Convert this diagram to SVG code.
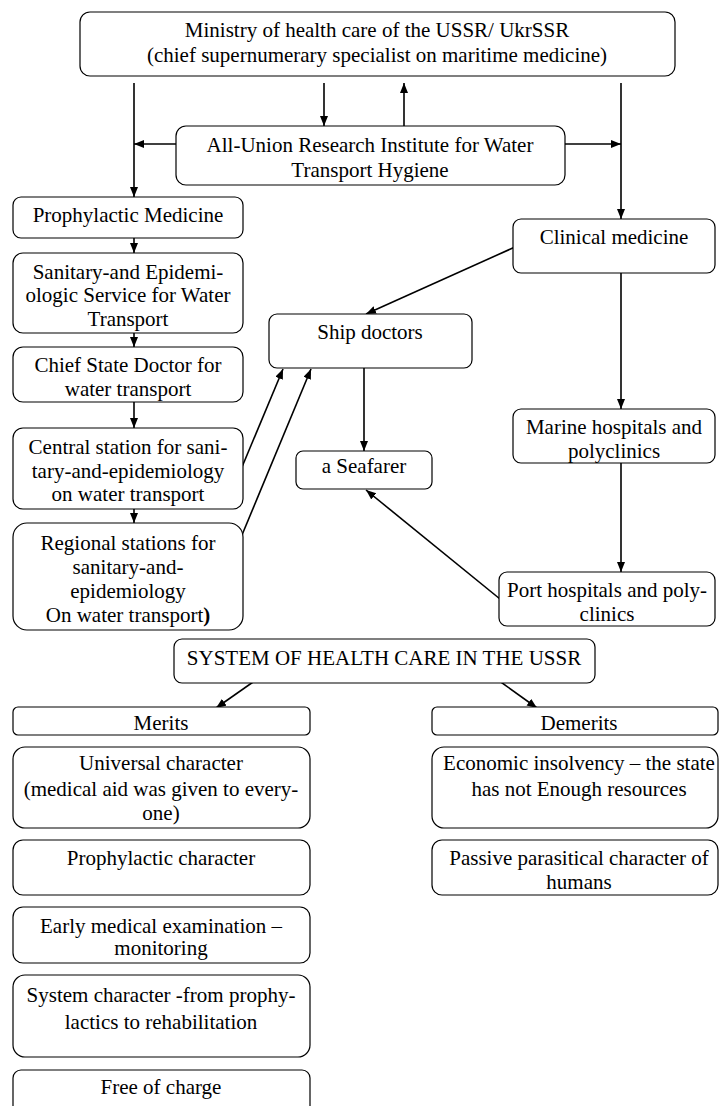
<svg xmlns="http://www.w3.org/2000/svg" width="720" height="1106" viewBox="0 0 720 1106">
<defs>
<marker id="ah" markerUnits="userSpaceOnUse" markerWidth="12" markerHeight="10" refX="10" refY="4" orient="auto">
<path d="M0,0 L10,4 L0,8 Z" fill="#000"/>
</marker>
</defs>
<style>
.b{fill:#fff;stroke:#000;stroke-width:1.2}
.t{font-size:21px;fill:#000;text-anchor:middle}
.c{stroke:#000;stroke-width:1.6;fill:none}
.a{marker-end:url(#ah)}
</style>
<rect width="720" height="1106" fill="#fff"/>
<g id="connectors">
<line class="c a" x1="134" y1="83" x2="134" y2="197"/>
<line class="c a" x1="324" y1="83" x2="324" y2="126"/>
<line class="c a" x1="404" y1="126" x2="404" y2="83"/>
<line class="c a" x1="621" y1="83" x2="621" y2="219"/>
<line class="c a" x1="176" y1="144" x2="134" y2="144"/>
<line class="c a" x1="565" y1="144" x2="621" y2="144"/>
<line class="c a" x1="134" y1="238" x2="134" y2="253"/>
<line class="c a" x1="134" y1="333" x2="134" y2="347"/>
<line class="c a" x1="134" y1="402" x2="134" y2="428"/>
<line class="c a" x1="134" y1="509" x2="134" y2="523"/>
<line class="c a" x1="515" y1="247" x2="366" y2="314"/>
<line class="c a" x1="621" y1="273" x2="621" y2="409"/>
<line class="c a" x1="621" y1="463" x2="621" y2="572"/>
<line class="c a" x1="500" y1="599" x2="366" y2="490"/>
<line class="c a" x1="364" y1="368" x2="364" y2="451"/>
<line class="c a" x1="242" y1="467" x2="283" y2="369"/>
<line class="c a" x1="242" y1="535" x2="311" y2="369"/>
<line class="c a" x1="256" y1="680" x2="216" y2="708"/>
<line class="c a" x1="498" y1="680" x2="537" y2="708"/>
</g>
<g font-family="Liberation Serif, serif">
<g id="ministry"><rect class="b" x="80" y="12" width="595" height="64" rx="10"/>
<text class="t" x="377" y="37" font-family="Liberation Serif">Ministry of health care of the USSR/ UkrSSR</text>
<text class="t" x="377" y="62" font-family="Liberation Serif">(chief supernumerary specialist on maritime medicine)</text></g>
<g id="institute"><rect class="b" x="176" y="126" width="389" height="59" rx="10"/>
<text class="t" x="370" y="152" font-family="Liberation Serif">All-Union Research Institute for Water</text>
<text class="t" x="370" y="177" font-family="Liberation Serif">Transport Hygiene</text></g>
<g id="prophylactic"><rect class="b" x="13" y="197" width="230" height="41" rx="8"/>
<text class="t" x="128" y="222" font-family="Liberation Serif">Prophylactic Medicine</text></g>
<g id="sanitary"><rect class="b" x="13" y="253" width="230" height="80" rx="10"/>
<text class="t" x="128" y="279" font-family="Liberation Serif">Sanitary-and Epidemi-</text>
<text class="t" x="128" y="302" font-family="Liberation Serif">ologic Service for Water</text>
<text class="t" x="128" y="326" font-family="Liberation Serif">Transport</text></g>
<g id="chief"><rect class="b" x="13" y="347" width="230" height="55" rx="10"/>
<text class="t" x="128" y="372" font-family="Liberation Serif">Chief State Doctor for</text>
<text class="t" x="128" y="396" font-family="Liberation Serif">water transport</text></g>
<g id="central"><rect class="b" x="13" y="428" width="230" height="81" rx="10"/>
<text class="t" x="128" y="454" font-family="Liberation Serif">Central station for sani-</text>
<text class="t" x="128" y="478" font-family="Liberation Serif">tary-and-epidemiology</text>
<text class="t" x="128" y="501" font-family="Liberation Serif">on water transport</text></g>
<g id="regional"><rect class="b" x="13" y="523" width="230" height="107" rx="14"/>
<text class="t" x="128" y="550" font-family="Liberation Serif">Regional stations for</text>
<text class="t" x="128" y="574" font-family="Liberation Serif">sanitary-and-</text>
<text class="t" x="128" y="598" font-family="Liberation Serif">epidemiology</text>
<text class="t" x="128" y="622" font-family="Liberation Serif">On water transport<tspan font-weight="bold">)</tspan></text></g>
<g id="clinical"><rect class="b" x="513" y="219" width="202" height="54" rx="8"/>
<text class="t" x="614" y="244" font-family="Liberation Serif">Clinical medicine</text></g>
<g id="ship"><rect class="b" x="269" y="314" width="203" height="54" rx="8"/>
<text class="t" x="370" y="339" font-family="Liberation Serif">Ship doctors</text></g>
<g id="seafarer"><rect class="b" x="296" y="451" width="136" height="38" rx="7"/>
<text class="t" x="364" y="473" font-family="Liberation Serif">a Seafarer</text></g>
<g id="marine"><rect class="b" x="513" y="409" width="202" height="54" rx="8"/>
<text class="t" x="614" y="434" font-family="Liberation Serif">Marine hospitals and</text>
<text class="t" x="614" y="458" font-family="Liberation Serif">polyclinics</text></g>
<g id="port"><rect class="b" x="499" y="572" width="216" height="54" rx="8"/>
<text class="t" x="607" y="597" font-family="Liberation Serif">Port hospitals and poly-</text>
<text class="t" x="607" y="621" font-family="Liberation Serif">clinics</text></g>
<g id="system"><rect class="b" x="174" y="639" width="421" height="44" rx="8"/>
<text class="t" x="384" y="665" font-family="Liberation Serif">SYSTEM OF HEALTH CARE IN THE USSR</text></g>
<g id="merits"><rect class="b" x="13" y="707" width="297" height="28" rx="5"/>
<text class="t" x="161" y="730" font-family="Liberation Serif">Merits</text></g>
<g id="demerits"><rect class="b" x="432" y="707" width="286" height="28" rx="5"/>
<text class="t" x="579" y="730" font-family="Liberation Serif">Demerits</text></g>
<g id="universal"><rect class="b" x="13" y="747" width="297" height="81" rx="12"/>
<text class="t" x="161" y="770" font-family="Liberation Serif">Universal character</text>
<text class="t" x="161" y="796" font-family="Liberation Serif">(medical aid was given to every-</text>
<text class="t" x="161" y="820" font-family="Liberation Serif">one)</text></g>
<g id="economic"><rect class="b" x="432" y="747" width="286" height="81" rx="12"/>
<text class="t" x="579" y="770" font-family="Liberation Serif">Economic insolvency – the state</text>
<text class="t" x="579" y="796" font-family="Liberation Serif">has not Enough resources</text></g>
<g id="prophchar"><rect class="b" x="13" y="840" width="297" height="55" rx="10"/>
<text class="t" x="161" y="865" font-family="Liberation Serif">Prophylactic character</text></g>
<g id="passive"><rect class="b" x="432" y="840" width="286" height="55" rx="10"/>
<text class="t" x="579" y="865" font-family="Liberation Serif">Passive parasitical character of</text>
<text class="t" x="579" y="889" font-family="Liberation Serif">humans</text></g>
<g id="early"><rect class="b" x="13" y="907" width="297" height="56" rx="10"/>
<text class="t" x="161" y="933" font-family="Liberation Serif">Early medical examination –</text>
<text class="t" x="161" y="955" font-family="Liberation Serif">monitoring</text></g>
<g id="systemchar"><rect class="b" x="13" y="975" width="297" height="82" rx="12"/>
<text class="t" x="161" y="1002" font-family="Liberation Serif">System character -from prophy-</text>
<text class="t" x="161" y="1029" font-family="Liberation Serif">lactics to rehabilitation</text></g>
<g id="free"><rect class="b" x="13" y="1070" width="297" height="50" rx="8"/>
<text class="t" x="161" y="1094" font-family="Liberation Serif">Free of charge</text></g>
</g>
</svg>
